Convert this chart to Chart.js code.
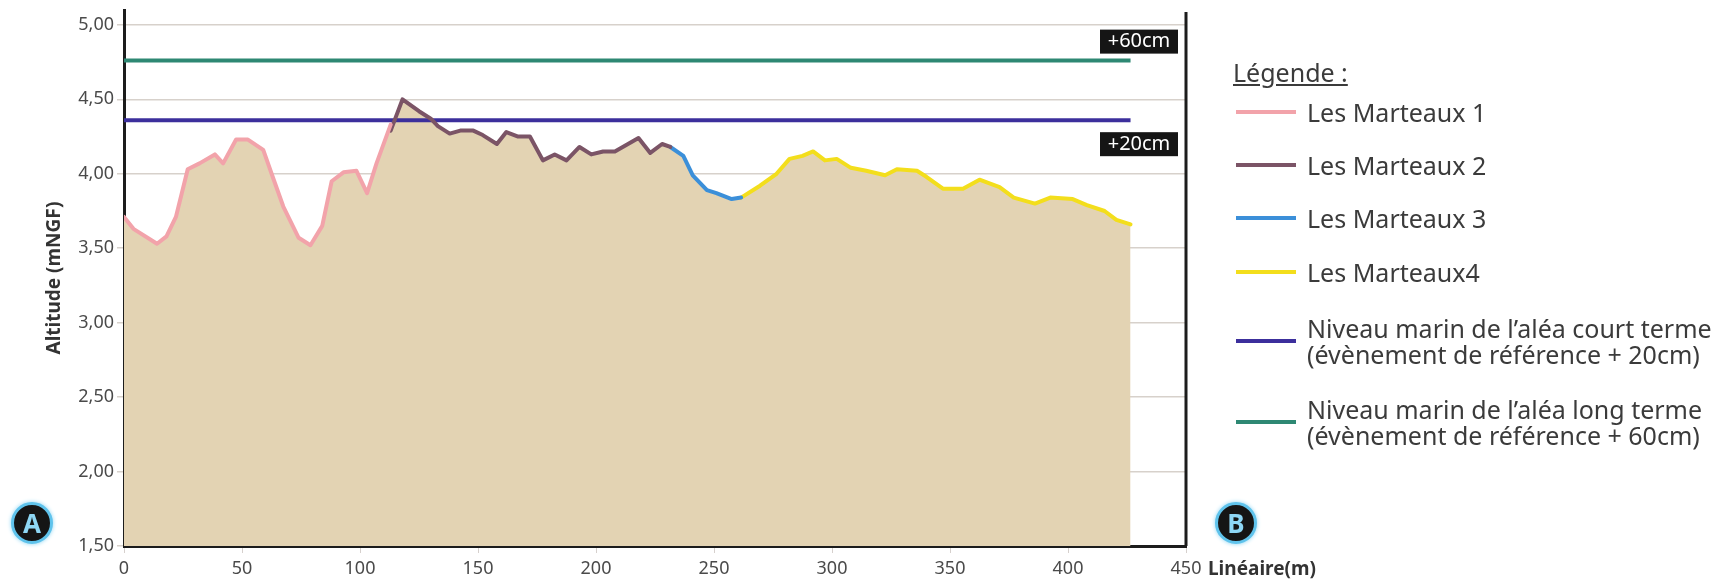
<!DOCTYPE html>
<html>
<head>
<meta charset="utf-8">
<script src="https://cdn.jsdelivr.net/npm/chart.js@4/dist/chart.umd.min.js"></script>
<style>
  body { margin: 0; background: #fff; font-family: "Noto Sans", sans-serif; }
  #wrap { position: relative; width: 1734px; height: 582px; }
  .badge { position: absolute; width: 36px; height: 36px; border-radius: 50%; background: #151515;
    border: 3px solid #5fc3ec; box-shadow: 0 0 4px #8fd6f3; color: #8ed7f5; font-weight: bold;
    font-size: 26px; line-height: 36px; text-align: center; }
  #legend { position: absolute; left: 0; top: 0; color: #3b3b3b; font-size: 25px; }
  .row { position: absolute; left: 1236px; display: flex; align-items: center; }
  .swatch { width: 60px; height: 4px; margin-right: 11px; flex: none; }
  .lbl { line-height: 26px; white-space: nowrap; }
</style>
</head>
<body>
<div id="wrap">
  <canvas id="profil" width="1734" height="582"></canvas>
  <div class="badge" style="left:11px;top:502px">A</div>
  <div class="badge" style="left:1215px;top:502px">B</div>
  <div style="position:absolute;left:1208px;top:555px;font-weight:bold;font-size:19px;line-height:26px;color:#333">Linéaire(m)</div>
  <div id="legend"></div>
</div>
<script>
// profil topographique
var distance1 = [0, 4, 14, 18, 22, 27, 32, 38.5, 42, 47.5, 52.5, 59, 63, 67.5, 74, 79, 84, 88, 93, 98.5, 103, 107, 113];
var altitude1 = [3.71, 3.63, 3.53, 3.58, 3.71, 4.03, 4.07, 4.13, 4.07, 4.23, 4.23, 4.16, 3.98, 3.78, 3.57, 3.52, 3.65, 3.95, 4.01, 4.02, 3.87, 4.07, 4.33];

var distance2 = [113, 118, 125, 130, 133, 138, 142.5, 148, 152, 158, 162, 167, 172, 177.5, 182.5, 187.5, 193, 198, 203, 208, 218, 223, 228, 231.5];
var altitude2 = [4.29, 4.50, 4.42, 4.37, 4.32, 4.27, 4.29, 4.29, 4.26, 4.20, 4.28, 4.25, 4.25, 4.09, 4.13, 4.09, 4.18, 4.13, 4.15, 4.15, 4.24, 4.14, 4.20, 4.18];

var distance3 = [231.5, 237, 241, 247, 251, 257.5, 261.5];
var altitude3 = [4.18, 4.12, 3.99, 3.89, 3.87, 3.83, 3.84];

var distance4 = [261.5, 269.5, 276.5, 282, 287.5, 292, 297, 302, 308, 314.5, 322.5, 327.5, 336, 340, 347, 355.5, 362.5, 371, 377, 386, 392.5, 402, 408, 415.5, 420.5, 426.5];
var altitude4 = [3.84, 3.92, 4.00, 4.10, 4.12, 4.15, 4.09, 4.10, 4.04, 4.02, 3.99, 4.03, 4.02, 3.98, 3.90, 3.90, 3.96, 3.91, 3.84, 3.80, 3.84, 3.83, 3.79, 3.75, 3.69, 3.66];

var niveauCourt = 4.36;   // +20cm
var niveauLong = 4.76;    // +60cm
var niveauDebut = 0;
var niveauFin = 426.5;

var xTicks = [0, 50, 100, 150, 200, 250, 300, 350, 400, 450];
var yTicks = [1.5, 2.0, 2.5, 3.0, 3.5, 4.0, 4.5, 5.0];

var legende = [
  ['Les Marteaux 1', '#f2a3aa'],
  ['Les Marteaux 2', '#7b5466'],
  ['Les Marteaux 3', '#3b8fd9'],
  ['Les Marteaux4', '#f3de1c'],
  ['Niveau marin de l\u2019aléa court terme<br>(évènement de référence + 20cm)', '#3c2f9c'],
  ['Niveau marin de l\u2019aléa long terme<br>(évènement de référence + 60cm)', '#2e8873']
];

function pts(xs, ys) {
  return xs.map(function(x, i){ return {x: x, y: ys[i]}; });
}

var profil = pts(distance1, altitude1)
  .concat(pts(distance2, altitude2))
  .concat(pts(distance3, altitude3))
  .concat(pts(distance4, altitude4));

function segment(label, xs, ys, color) {
  return {
    label: label, data: pts(xs, ys), borderColor: color, borderWidth: 4,
    pointRadius: 0, fill: false, tension: 0, borderJoinStyle: 'round', borderCapStyle: 'round', order: 1
  };
}

var reperes = {
  id: 'reperes',
  afterDraw: function(chart) {
    var c = chart.ctx, a = chart.chartArea, y = chart.scales.y;
    c.save();
    // cadre droit
    c.strokeStyle = '#1c1c1c';
    c.lineWidth = 3;
    c.beginPath();
    c.moveTo(a.right, a.top + 2);
    c.lineTo(a.right, a.bottom);
    c.stroke();
    // étiquettes des niveaux
    c.font = '20px "Noto Sans"';
    c.textAlign = 'center';
    c.textBaseline = 'middle';
    var boxes = [['+60cm', y.getPixelForValue(niveauLong) - 31], ['+20cm', y.getPixelForValue(niveauCourt) + 12]];
    boxes.forEach(function(b){
      c.fillStyle = '#151515';
      c.fillRect(a.right - 86, b[1], 78, 24);
      c.fillStyle = '#fff';
      c.fillText(b[0], a.right - 47, b[1] + 12);
    });
    c.restore();
  }
};

var ctx = document.getElementById('profil');

var myChart = new Chart(ctx, {
  type: 'line',
  data: {
    datasets: [
      segment('Les Marteaux 1', distance1, altitude1, legende[0][1]),
      segment('Les Marteaux 2', distance2, altitude2, legende[1][1]),
      segment('Les Marteaux 3', distance3, altitude3, legende[2][1]),
      segment('Les Marteaux4', distance4, altitude4, legende[3][1]),
      {
        label: 'court terme', data: pts([niveauDebut, niveauFin], [niveauCourt, niveauCourt]),
        borderColor: legende[4][1], borderWidth: 4, pointRadius: 0, fill: false, order: 3
      },
      {
        label: 'long terme', data: pts([niveauDebut, niveauFin], [niveauLong, niveauLong]),
        borderColor: legende[5][1], borderWidth: 4, pointRadius: 0, fill: false, order: 3
      },
      {
        label: 'terrain', data: profil, borderWidth: 0, pointRadius: 0,
        backgroundColor: '#e3d3b3', fill: 'start', order: 10
      }
    ]
  },
  options: {
    responsive: false,
    animation: false,
    layout: { padding: { left: 43, top: 10, right: 548, bottom: 0 } },
    plugins: { legend: { display: false }, tooltip: { enabled: false } },
    scales: {
      x: {
        type: 'linear', min: 0, max: 450,
        afterFit: function(s){ s.height = 36; s.paddingLeft = 0; s.paddingRight = 0; },
        afterBuildTicks: function(s){ s.ticks = xTicks.map(function(v){ return {value: v}; }); },
        grid: { drawOnChartArea: false, tickLength: 7, color: 'rgba(120,100,90,0.3)' },
        border: { color: '#1c1c1c', width: 3 },
        ticks: { color: '#4a4a4a', font: { family: 'Noto Sans', size: 18 }, padding: 5, maxRotation: 0 }
      },
      y: {
        min: 1.5, max: 5.1, z: 1,
        afterFit: function(s){ s.width = 81; s.paddingTop = 0; s.paddingBottom = 0; },
        afterBuildTicks: function(s){ s.ticks = yTicks.map(function(v){ return {value: v}; }); },
        grid: { color: 'rgba(110,90,70,0.28)', lineWidth: 1.5, tickLength: 7 },
        border: { color: '#1c1c1c', width: 3 },
        ticks: {
          color: '#4a4a4a', font: { family: 'Noto Sans', size: 18 }, padding: 3,
          callback: function(v){ return v.toFixed(2).replace('.', ','); }
        },
        title: { display: true, text: 'Altitude (mNGF)', color: '#333', font: { family: 'Noto Sans', size: 19, weight: 'bold' }, padding: 0 }
      }
    }
  },
  plugins: [reperes]
});

// légende à droite
var leg = document.getElementById('legend');
var html = '<div style="position:absolute;left:1233px;top:59px;line-height:26px;text-decoration:underline;white-space:nowrap">Légende :</div>';
var rowTops = [99, 152, 205, 259, 315, 396];
legende.forEach(function(l, i){
  html += '<div class="row" style="top:' + rowTops[i] + 'px"><div class="swatch" style="background:' + l[1] + '"></div><div class="lbl">' + l[0] + '</div></div>';
});
leg.innerHTML = html;
</script>
</body>
</html>
